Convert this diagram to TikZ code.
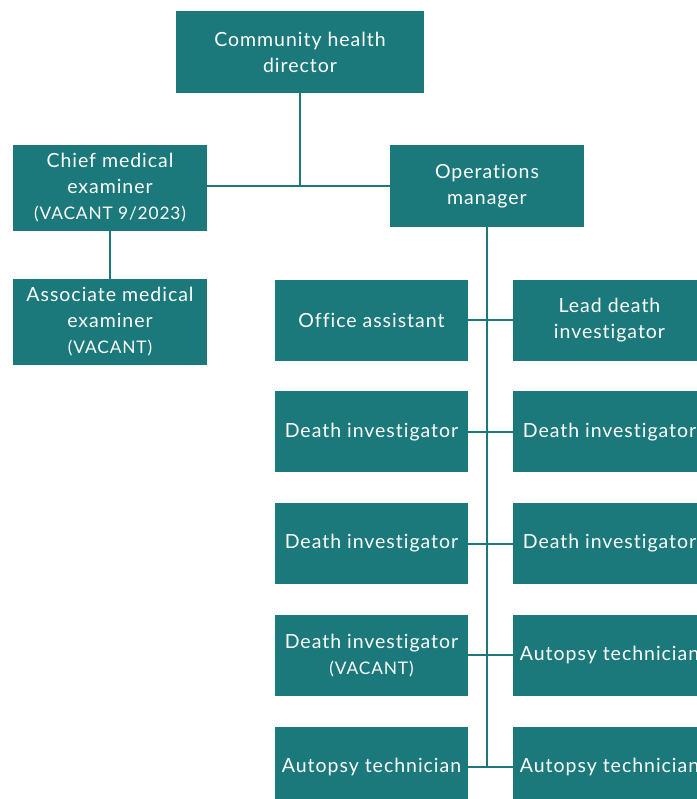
\documentclass[tikz,border=0pt]{standalone}
\usepackage{fontspec}
\setmainfont{Lato}[LetterSpace=5, Ligatures=CommonOff]
\definecolor{orgteal}{RGB}{27,121,124}
\tikzset{
    post/.style={fill=orgteal, text=white, align=center, inner sep=0pt,
        minimum width=193pt, minimum height=81pt},
    link/.style={draw=orgteal, line width=2pt}
}
\newcommand{\vacnote}[1]{{\fontsize{17.3}{22}\selectfont #1}}
\begin{document}
\begin{tikzpicture}[x=1pt, y=-1pt, font=\fontsize{19.5}{26}\selectfont]
    \useasboundingbox (0,0) rectangle (696,799);
    % top of the chart
    \node[post, minimum width=248pt, minimum height=82pt] (director) at (300,52)
        {Community health\\director};
    \node[post, minimum width=194pt, minimum height=86pt] (chief) at (110,188)
        {Chief medical\\examiner\\\vacnote{(VACANT 9/2023)}};
    \node[post, minimum width=194pt, minimum height=82pt] (ops) at (487,186)
        {Operations\\manager};
    \node[post, minimum width=194pt, minimum height=86pt] (assoc) at (110,322)
        {Associate medical\\examiner\\\vacnote{(VACANT)}};
    \draw[link] (director.south) -- (director.south |- ops.west);
    \draw[link] (chief.east |- ops.west) -- (ops.west);
    \draw[link] (chief.south) -- (assoc.north);
    % staff under the operations manager
    \foreach \row/\ltext/\rtext in {
        1/{Office assistant}/{Lead death\\investigator},
        2/{Death investigator}/{Death investigator},
        3/{Death investigator}/{Death investigator},
        4/{Death investigator\\\vacnote{(VACANT)}}/{Autopsy technician},
        5/{Autopsy technician}/{Autopsy technician}} {
        \begin{scope}[yshift={-(320+(\row-1)*111.75)*1pt}]
            \node[post] (l\row) at (371.5,0) {\ltext};
            \node[post] (r\row) at (609.5,0) {\rtext};
            \draw[link] (l\row.east) -- (r\row.west);
        \end{scope}
    }
    \draw[link] (ops.south) -- (ops.south |- l5.east);
\end{tikzpicture}
\end{document}
